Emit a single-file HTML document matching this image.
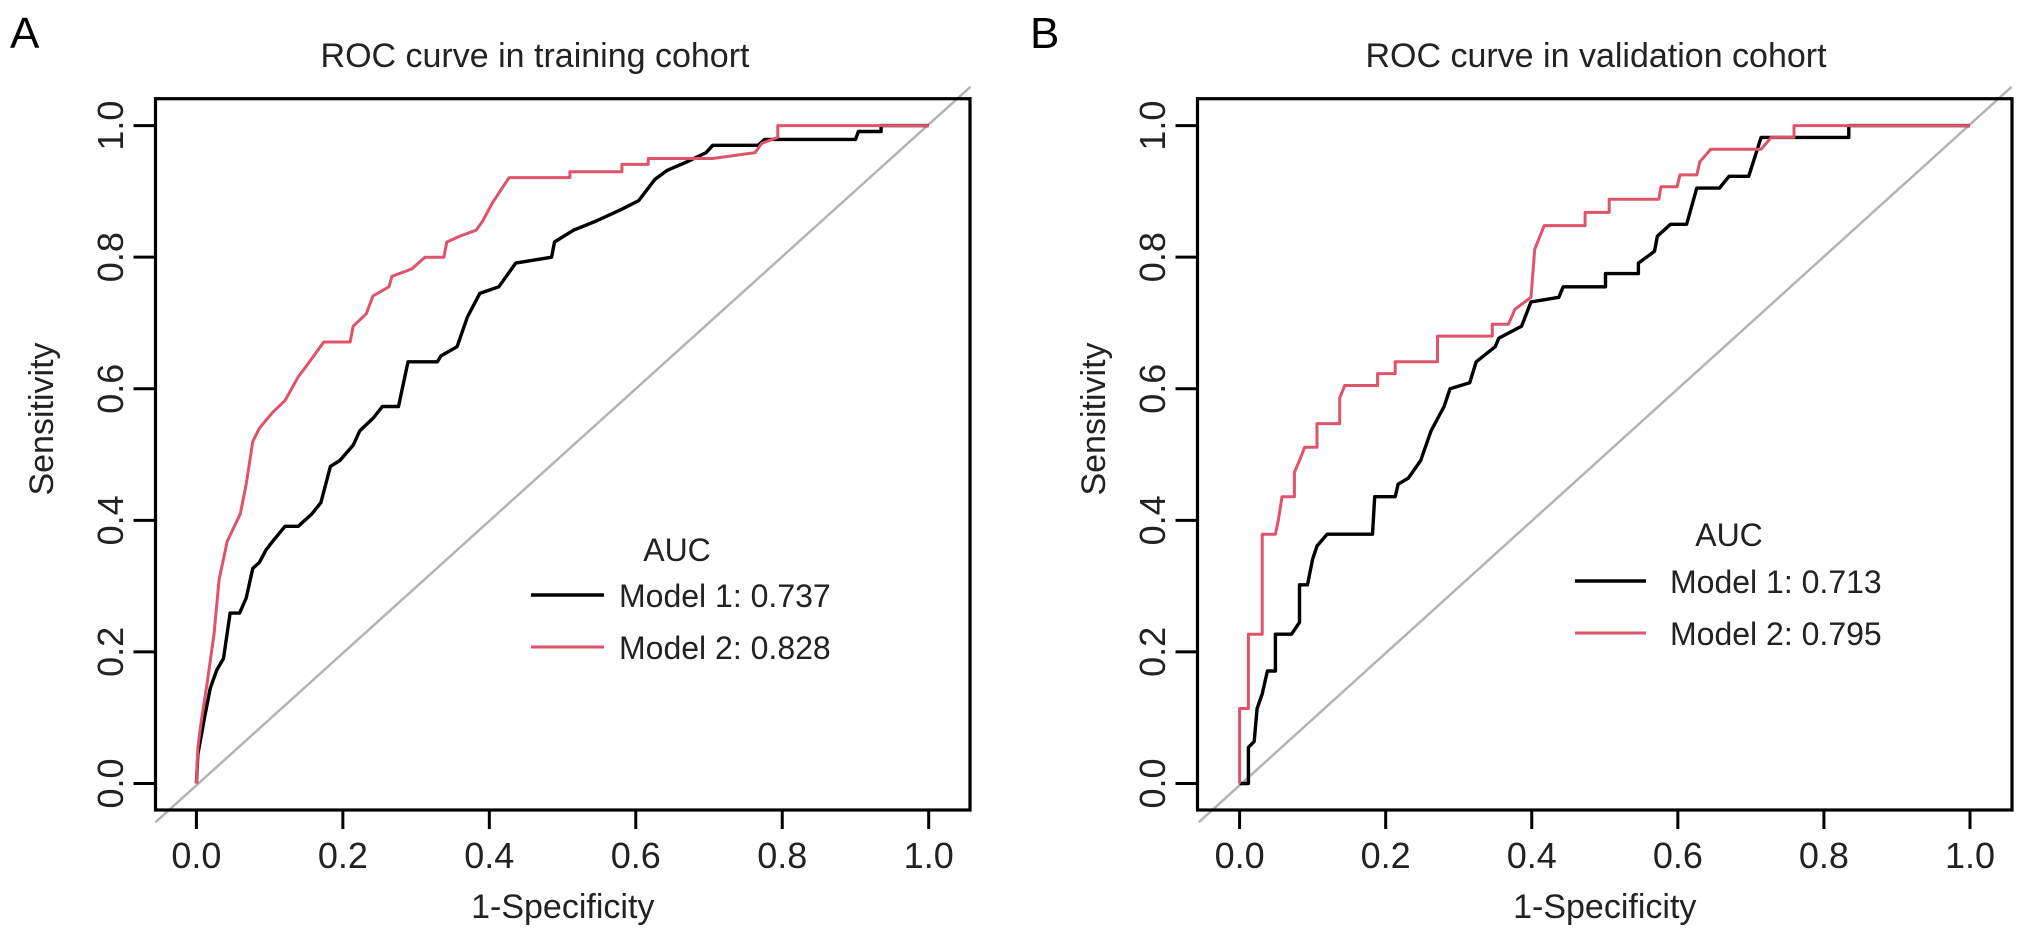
<!DOCTYPE html>
<html><head><meta charset="utf-8">
<style>
html,body{margin:0;padding:0;background:#fff;}
svg{display:block;font-family:"Liberation Sans",Arial,sans-serif;}
</style></head>
<body>
<svg id="fig" width="2032" height="938" viewBox="0 0 2032 938" xmlns="http://www.w3.org/2000/svg"></svg>
<script>
// Panel A data (x = 1-specificity, y = sensitivity)
const aM1x=[0,0.002,0.011,0.019,0.028,0.037,0.046,0.059,0.068,0.077,0.086,0.095,0.104,0.121,0.139,0.157,0.17,0.183,0.196,0.214,0.223,0.241,0.254,0.276,0.289,0.329,0.334,0.356,0.37,0.387,0.413,0.436,0.485,0.489,0.515,0.546,0.581,0.604,0.626,0.643,0.67,0.696,0.705,0.767,0.776,0.9,0.904,0.935,0.935,1];
const aM1y=[0,0.045,0.1,0.145,0.173,0.19,0.259,0.259,0.282,0.327,0.336,0.355,0.368,0.391,0.391,0.409,0.427,0.482,0.491,0.514,0.536,0.555,0.573,0.573,0.641,0.641,0.65,0.664,0.709,0.745,0.755,0.791,0.8,0.823,0.841,0.855,0.873,0.886,0.918,0.932,0.945,0.959,0.97,0.97,0.979,0.979,0.991,0.991,1,1];
const aM2x=[0,0.002,0.006,0.015,0.024,0.031,0.042,0.06,0.068,0.077,0.086,0.104,0.121,0.139,0.157,0.174,0.21,0.214,0.232,0.241,0.263,0.267,0.294,0.312,0.338,0.342,0.36,0.382,0.391,0.404,0.427,0.51,0.51,0.581,0.581,0.617,0.617,0.705,0.763,0.772,0.794,0.794,1];
const aM2y=[0,0.055,0.09,0.155,0.227,0.31,0.368,0.41,0.455,0.52,0.54,0.564,0.582,0.618,0.645,0.671,0.671,0.695,0.714,0.741,0.755,0.771,0.782,0.8,0.8,0.823,0.832,0.841,0.855,0.882,0.921,0.921,0.93,0.93,0.941,0.941,0.95,0.95,0.959,0.973,0.982,1,1];
// Panel B data
const bM1x=[0,0.012,0.012,0.02,0.024,0.031,0.038,0.049,0.049,0.071,0.082,0.082,0.093,0.1,0.106,0.12,0.182,0.185,0.213,0.217,0.231,0.248,0.262,0.28,0.288,0.315,0.324,0.35,0.355,0.386,0.399,0.437,0.443,0.501,0.501,0.546,0.546,0.568,0.572,0.59,0.612,0.626,0.657,0.67,0.697,0.714,0.834,0.834,1];
const bM1y=[0,0,0.055,0.064,0.114,0.136,0.171,0.171,0.227,0.227,0.245,0.302,0.302,0.341,0.361,0.379,0.379,0.436,0.436,0.455,0.464,0.491,0.536,0.573,0.6,0.609,0.641,0.664,0.677,0.695,0.732,0.739,0.755,0.755,0.775,0.775,0.791,0.809,0.832,0.85,0.85,0.905,0.905,0.923,0.923,0.982,0.982,1,1];
const bM2x=[0,0,0.012,0.012,0.031,0.031,0.049,0.053,0.058,0.075,0.075,0.082,0.089,0.106,0.106,0.137,0.137,0.144,0.189,0.189,0.213,0.213,0.271,0.271,0.346,0.346,0.368,0.377,0.399,0.404,0.417,0.473,0.473,0.506,0.506,0.574,0.577,0.599,0.603,0.626,0.63,0.645,0.714,0.728,0.759,0.759,1];
const bM2y=[0,0.114,0.114,0.227,0.227,0.379,0.379,0.4,0.436,0.436,0.473,0.491,0.511,0.511,0.547,0.547,0.586,0.605,0.605,0.623,0.623,0.641,0.641,0.68,0.68,0.698,0.698,0.721,0.739,0.812,0.848,0.848,0.868,0.868,0.888,0.888,0.907,0.907,0.925,0.925,0.945,0.964,0.964,0.982,0.982,1,1];
const ticks=[0,0.2,0.4,0.6,0.8,1.0];
const tickLabels=["0.0","0.2","0.4","0.6","0.8","1.0"];
const legendLabelsA=["Model 1: 0.737","Model 2: 0.828"];
const legendLabelsB=["Model 1: 0.713","Model 2: 0.795"];

const NS="http://www.w3.org/2000/svg";
const svg=document.getElementById('fig');
function mk(tag,attrs,parent){const e=document.createElementNS(NS,tag);for(const k in attrs)e.setAttribute(k,attrs[k]);(parent||svg).appendChild(e);return e;}

function panel(cfg){
  const g=mk('g',{});
  
  
  const X=v=>cfg.x0+(cfg.x1-cfg.x0)*v;
  const Y=v=>783.5-(783.5-125.6)*v;
  const letter=mk('text',{x:cfg.letterX,y:48,'font-size':44,fill:'#000'},g);letter.textContent=cfg.letter;
  
  
  const title=mk('text',{x:cfg.titleX,y:67,'font-size':34,'text-anchor':'middle',fill:'#222'},g);title.textContent=cfg.title;
  
  
  const diag=mk('line',{x1:X(-0.056),y1:Y(-0.059),x2:X(1.057),y2:Y(1.059),stroke:'#b4b4b4','stroke-width':2.5},g);
  
  
  const series=[[cfg.m1x,cfg.m1y,'#000',3.4,'model-1-curve'],[cfg.m2x,cfg.m2y,'#df536b',3.0,'model-2-curve']];
  for(const s of series){
    const pts=s[0].map((v,i)=>X(v).toFixed(1)+','+Y(s[1][i]).toFixed(1)).join(' ');
    const pl=mk('polyline',{points:pts,fill:'none',stroke:s[2],'stroke-width':s[3],'stroke-linejoin':'round'},g);
    
    
  }
  const box=mk('rect',{x:cfg.bx0,y:98.7,width:cfg.bx1-cfg.bx0,height:810-98.7,fill:'none',stroke:'#000','stroke-width':3.2},g);
  
  
  ticks.forEach((t,i)=>{
    const xt=mk('line',{x1:X(t),y1:810,x2:X(t),y2:829,stroke:'#000','stroke-width':3},g);
    
    
    const xl=mk('text',{x:X(t),y:868,'font-size':36,'text-anchor':'middle',fill:'#222'},g);xl.textContent=tickLabels[i];
    
    
    const yt=mk('line',{x1:cfg.bx0,y1:Y(t),x2:cfg.bx0-22,y2:Y(t),stroke:'#000','stroke-width':3},g);
    
    
    const yl=mk('text',{x:0,y:0,'font-size':36,'text-anchor':'middle',fill:'#222',transform:`translate(${cfg.ytlX},${Y(t)}) rotate(-90)`},g);yl.textContent=tickLabels[i];
    
    
  });
  const xa=mk('text',{x:(cfg.bx0+cfg.bx1)/2,y:918,'font-size':34,'text-anchor':'middle',fill:'#222'},g);xa.textContent='1-Specificity';
  
  
  const ya=mk('text',{x:0,y:0,'font-size':34,'text-anchor':'middle',fill:'#222',transform:`translate(${cfg.yaX},${419}) rotate(-90)`},g);ya.textContent='Sensitivity';
  
  
  const lg=mk('g',{},g);
  
  
  const auc=mk('text',{x:cfg.lgAucX,y:cfg.lgY0+12,'font-size':32,'text-anchor':'middle',fill:'#222'},lg);auc.textContent='AUC';
  
  
  cfg.labels.forEach((lab,i)=>{
    const yy=cfg.lgY1+i*52;
    const ln=mk('line',{x1:cfg.lgL0,y1:yy,x2:cfg.lgL1,y2:yy,stroke:i?'#df536b':'#000','stroke-width':i?3.0:3.4},lg);
    
    
    const tx=mk('text',{x:cfg.lgT,y:yy+12,'font-size':32,fill:'#222'},lg);tx.textContent=lab;
    
    
  });
}
panel({name:'panel-a-training',letter:'A',letterX:10,title:'ROC curve in training cohort',titleX:535,x0:196.4,x1:928.7,bx0:155.5,bx1:970,ytlX:123,yaX:53,
  m1x:aM1x,m1y:aM1y,m2x:aM2x,m2y:aM2y,labels:legendLabelsA,lgAucX:677,lgY0:549,lgY1:595,lgL0:531,lgL1:604,lgT:619});
panel({name:'panel-b-validation',letter:'B',letterX:1030,title:'ROC curve in validation cohort',titleX:1596,x0:1239.6,x1:1970,bx0:1197.5,bx1:2012,ytlX:1165,yaX:1105,
  m1x:bM1x,m1y:bM1y,m2x:bM2x,m2y:bM2y,labels:legendLabelsB,lgAucX:1729,lgY0:534,lgY1:581,lgL0:1575,lgL1:1646,lgT:1670});
</script>
</body></html>
